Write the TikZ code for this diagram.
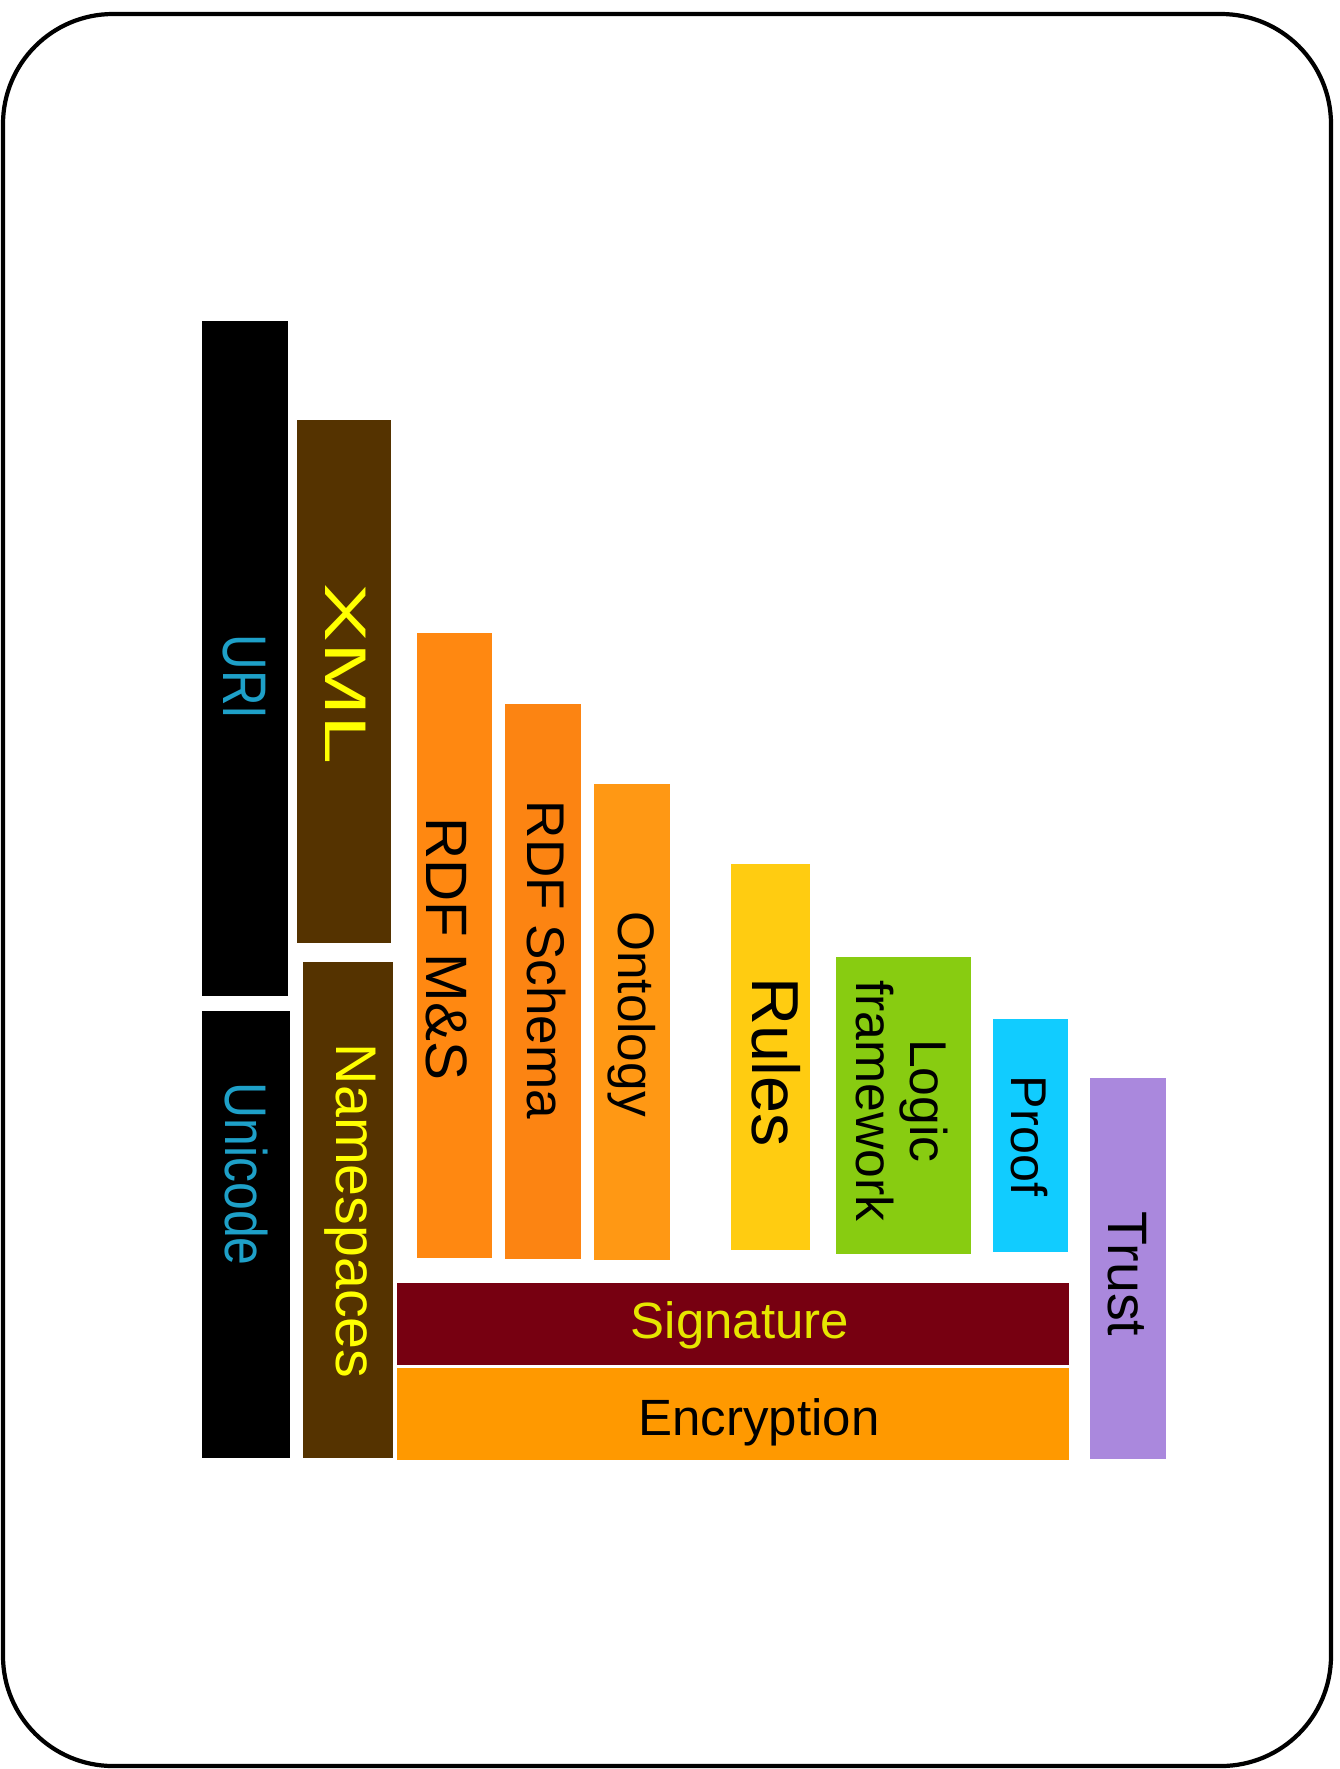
\documentclass[tikz,border=0pt]{standalone}
\usepackage{fontspec}
\setmainfont{Liberation Sans}
\usepackage{tikz}

\definecolor{urifg}{RGB}{30,160,200}
\definecolor{xmlbg}{RGB}{85,51,0}
\definecolor{xmlfg}{RGB}{255,255,0}
\definecolor{rdfbg}{RGB}{255,136,17}
\definecolor{schemabg}{RGB}{252,132,18}
\definecolor{ontobg}{RGB}{255,152,20}
\definecolor{rulesbg}{RGB}{255,204,17}
\definecolor{logicbg}{RGB}{136,204,17}
\definecolor{proofbg}{RGB}{17,204,255}
\definecolor{trustbg}{RGB}{170,136,221}
\definecolor{sigbg}{RGB}{119,0,17}
\definecolor{sigfg}{RGB}{230,230,0}
\definecolor{cryptbg}{RGB}{255,153,0}

\newcommand{\fs}[1]{\fontsize{#1}{#1}\selectfont}

\begin{document}
\begin{tikzpicture}[x=0.01cm,y=-0.01cm]
\tikzstyle{every node} = [inner sep=0pt]
\tikzstyle{vlabel} = [rotate=-90,align=center]

\useasboundingbox (0,0) rectangle (1340,1769);
\draw[line width=1.2pt,rounded corners=1.1cm] (3,14) rectangle (1331,1766);

% left columns
\fill[black] (202,321) rectangle (288,996);
\fill[black] (202,1011) rectangle (290,1458);
\fill[xmlbg] (297,420) rectangle (391,943);
\fill[xmlbg] (303,962) rectangle (393,1458);
\path (244,677) node[vlabel,xscale=0.8,text=urifg,font=\fs{17.5}] (uri) {URI};
\path (246,1174) node[vlabel,xscale=0.85,text=urifg,font=\fs{16.7}] (unicode) {Unicode};
\path (346,674) node[vlabel,xscale=1.5,text=xmlfg,font=\fs{16.7}] (xml) {XML};
\path (350,1211) node[vlabel,text=xmlfg,font=\fs{16.3}] (ns) {Namespaces};

% rdf stack
\fill[rdfbg] (417,633) rectangle (492,1258);
\fill[schemabg] (505,704) rectangle (581,1259);
\fill[ontobg] (594,784) rectangle (670,1260);
\path (447,949) node[vlabel,font=\fs{16.6}] (rdf) {RDF M\&S};
\path (546,960) node[vlabel,font=\fs{15.1}] (schema) {RDF Schema};
\path (632,1014) node[vlabel,font=\fs{14.6}] (onto) {Ontology};

% upper layers
\fill[rulesbg] (731,864) rectangle (810,1250);
\fill[logicbg] (836,957) rectangle (971,1254);
\fill[proofbg] (993,1019) rectangle (1068,1252);
\fill[trustbg] (1090,1078) rectangle (1166,1459);
\path (776,1062) node[vlabel,font=\fs{18.9}] (rules) {Rules};
\path (902,1101) node[vlabel,font=\fontsize{14.7}{15.5}\selectfont] (logic) {Logic\\framework};
\path (1029,1136) node[vlabel,font=\fs{14.3}] (proof) {Proof};
\path (1127,1274) node[vlabel,font=\fs{15.8}] (trust) {Trust};

% bottom bars
\fill[sigbg] (397,1283) rectangle (1069,1365);
\fill[cryptbg] (397,1368) rectangle (1069,1460);
\path (740,1325) node[text=sigfg,font=\fs{14.5}] (sig) {Signature};
\path (759,1422) node[font=\fs{14.5}] (crypt) {Encryption};

\end{tikzpicture}
\end{document}
